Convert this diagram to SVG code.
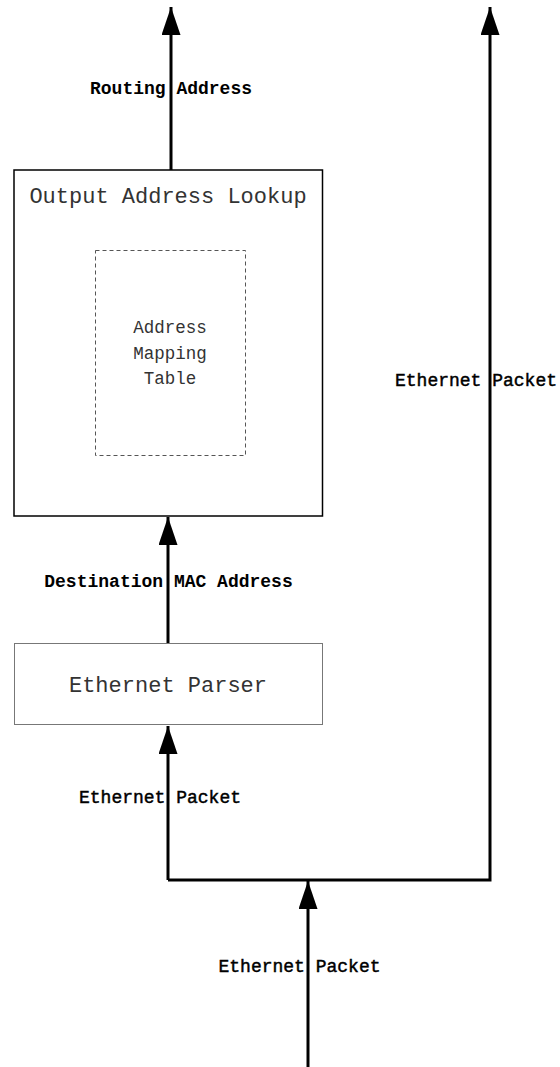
<svg xmlns="http://www.w3.org/2000/svg" width="560" height="1067" viewBox="0 0 560 1067">
<style>
.conn{fill:none;stroke:#000;stroke-width:3;marker-end:url(#ah)}
.lbl{font-family:"Liberation Mono",monospace;font-size:18px;font-weight:bold;fill:#000;text-anchor:middle}
.lbl2{font-family:"Liberation Mono",monospace;font-size:18px;fill:#000;stroke:#000;stroke-width:0.45;text-anchor:middle}
.ttl{font-family:"Liberation Mono",monospace;font-size:22px;fill:#333;text-anchor:middle}
.sm{font-family:"Liberation Mono",monospace;font-size:17.5px;fill:#333;text-anchor:middle}
</style>
<defs>
<marker id="ah" markerUnits="userSpaceOnUse" markerWidth="28" markerHeight="19" refX="28" refY="9.5" orient="auto">
<path d="M0,0 L28,9.5 L0,19 Z" fill="#000"/>
</marker>
</defs>
<rect width="560" height="1067" fill="#fff"/>
<g id="connectors">
<path class="conn" d="M171,170 V7"/>
<path class="conn" d="M168,643 V517"/>
<path class="conn" d="M168,880 V726"/>
<path class="conn" d="M168,880 H490 V7"/>
<path class="conn" d="M308,1067 V881"/>
</g>
<g id="labels">
<text class="lbl" x="171" y="94">Routing Address</text>
<text class="lbl" x="168.5" y="587">Destination MAC Address</text>
<text class="lbl2" x="160" y="803">Ethernet Packet</text>
<text class="lbl2" x="299.5" y="972">Ethernet Packet</text>
<text class="lbl2" x="476" y="386">Ethernet Packet</text>
</g>
<g id="output-address-lookup">
<rect x="14" y="170" width="308.5" height="346" fill="none" stroke="#000" stroke-width="1.5"/>
<text class="ttl" x="168" y="203">Output Address Lookup</text>
</g>
<g id="address-mapping-table">
<rect x="95.5" y="250.5" width="150" height="205" fill="none" stroke="#555" stroke-width="1" stroke-dasharray="4,3"/>
<text class="sm" x="170" y="333">Address</text>
<text class="sm" x="170" y="359">Mapping</text>
<text class="sm" x="170" y="384">Table</text>
</g>
<g id="ethernet-parser">
<rect x="14.5" y="643.5" width="308" height="81" fill="#fff" stroke="#777" stroke-width="1"/>
<text class="ttl" x="168" y="692">Ethernet Parser</text>
</g>
</svg>
